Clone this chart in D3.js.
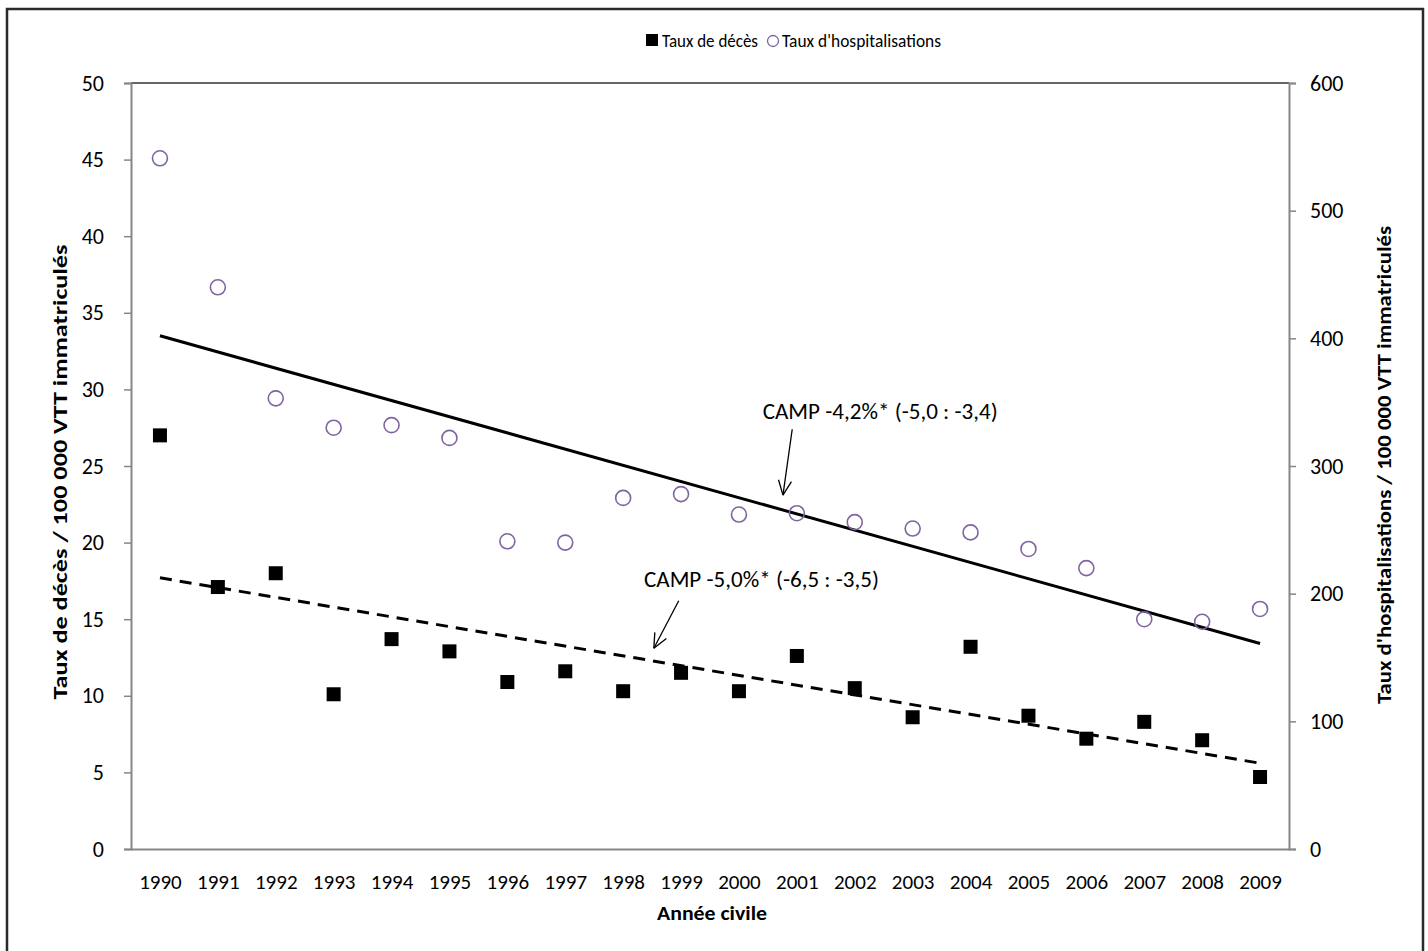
<!DOCTYPE html>
<html>
<head>
<meta charset="utf-8">
<script src="https://cdn.jsdelivr.net/npm/d3@7"></script>
<style>
  body { margin: 0; background: #fff; }
  text { font-family: Carlito, Calibri, Lato, sans-serif; }
</style>
</head>
<body>
<div id="chart"></div>
<script>
const years = [1990, 1991, 1992, 1993, 1994, 1995, 1996, 1997, 1998, 1999,
               2000, 2001, 2002, 2003, 2004, 2005, 2006, 2007, 2008, 2009];
// taux de décès / 100 000 VTT (axe gauche)
const deces = [27.0, 17.1, 18.0, 10.1, 13.7, 12.9, 10.9, 11.6, 10.3, 11.5,
               10.3, 12.6, 10.5, 8.6, 13.2, 8.7, 7.2, 8.3, 7.1, 4.7];
// taux d'hospitalisations / 100 000 VTT (axe droit)
const hospit = [541, 440, 353, 330, 332, 322, 241, 240, 275, 278,
                262, 263, 256, 251, 248, 235, 220, 180, 178, 188];
// tendances : [année, valeur] aux extrémités
const trendDeces = [[1990, 17.7], [2009, 5.6]];
const trendHospit = [[1990, 402], [2009, 161]];
const leftTicks = [0, 5, 10, 15, 20, 25, 30, 35, 40, 45, 50];
const rightTicks = [0, 100, 200, 300, 400, 500, 600];
// annotations CAMP (positions en année / valeur de l'axe gauche)
const notes = [
  { text: "CAMP -4,2%* (-5,0 : -3,4)", x: 2000.41, y: 28.1, from: [2000.92, 27.4], to: [2000.76, 23.1] },
  { text: "CAMP -5,0%* (-6,5 : -3,5)", x: 1998.36, y: 17.1, from: [1998.96, 16.2], to: [1998.53, 13.1] }
];

const width = 1428, height = 951;
const margin = { top: 83, right: 139, bottom: 102, left: 131 };
const plotW = width - margin.left - margin.right;
const plotH = height - margin.top - margin.bottom;

const svg = d3.select("#chart").append("svg")
  .attr("width", width).attr("height", height);

// cadre extérieur
svg.append("rect")
  .attr("x", 7).attr("y", 9).attr("width", 1416).attr("height", 960)
  .attr("fill", "none").attr("stroke", "#2a2a2a").attr("stroke-width", 2.5);

const g = svg.append("g").attr("transform", `translate(${margin.left},${margin.top})`);

const x = d3.scalePoint().domain(years).range([0, plotW]).padding(0.5);
const xNum = d3.scaleLinear().domain([1990, 2009]).range([x(1990), x(2009)]);
const yL = d3.scaleLinear().domain([0, 50]).range([plotH, 0]);
const yR = d3.scaleLinear().domain([0, 600]).range([plotH, 0]);

// bord supérieur de la zone de tracé
g.append("line")
  .attr("x1", 0).attr("x2", plotW).attr("y1", 0).attr("y2", 0)
  .attr("stroke", "#333").attr("stroke-width", 1.5);

const axisL = g.append("g")
  .call(d3.axisLeft(yL).tickValues(leftTicks).tickSize(7).tickPadding(20).tickSizeOuter(7));
const axisR = g.append("g").attr("transform", `translate(${plotW},0)`)
  .call(d3.axisRight(yR).tickValues(rightTicks).tickSize(7).tickPadding(14).tickSizeOuter(7));
const axisB = g.append("g").attr("transform", `translate(0,${plotH})`)
  .call(d3.axisBottom(x).tickSize(0).tickPadding(25));

[axisL, axisR, axisB].forEach(a => {
  a.attr("font-size", 22).attr("font-family", "Carlito, Calibri, Lato, sans-serif");
  a.select(".domain").attr("stroke", "#868686").attr("stroke-width", 2);
  a.selectAll(".tick line").attr("stroke", "#868686").attr("stroke-width", 1.5);
  a.selectAll(".tick text").attr("fill", "#000");
});
axisB.attr("font-size", 21);

// lignes de tendance
const lineL = d3.line().x(d => xNum(d[0])).y(d => yL(d[1]));
const lineR = d3.line().x(d => xNum(d[0])).y(d => yR(d[1]));
g.append("path").attr("d", lineR(trendHospit))
  .attr("fill", "none").attr("stroke", "#000").attr("stroke-width", 3);
g.append("path").attr("d", lineL(trendDeces))
  .attr("fill", "none").attr("stroke", "#000").attr("stroke-width", 3)
  .attr("stroke-dasharray", "12,8");

// points
g.selectAll(".hosp").data(hospit).enter().append("circle")
  .attr("class", "hosp")
  .attr("cx", (d, i) => x(years[i])).attr("cy", d => yR(d))
  .attr("r", 7.5).attr("fill", "none").attr("stroke", "#8064a2").attr("stroke-width", 1.6);

const sq = 14;
g.selectAll(".dec").data(deces).enter().append("rect")
  .attr("class", "dec")
  .attr("x", (d, i) => x(years[i]) - sq / 2).attr("y", d => yL(d) - sq / 2)
  .attr("width", sq).attr("height", sq).attr("fill", "#000");

// annotations
notes.forEach(n => {
  g.append("text").attr("x", xNum(n.x)).attr("y", yL(n.y))
    .attr("font-size", 22).attr("fill", "#000")
    .attr("textLength", 235).attr("lengthAdjust", "spacingAndGlyphs")
    .text(n.text);
  const x1 = xNum(n.from[0]), y1 = yL(n.from[1]);
  const x2 = xNum(n.to[0]), y2 = yL(n.to[1]);
  g.append("line").attr("x1", x1).attr("y1", y1).attr("x2", x2).attr("y2", y2)
    .attr("stroke", "#000").attr("stroke-width", 1.3);
  const ang = Math.atan2(y2 - y1, x2 - x1);
  const L = 16, spread = 0.42;
  [ang + Math.PI - spread, ang + Math.PI + spread].forEach(a => {
    g.append("line").attr("x1", x2).attr("y1", y2)
      .attr("x2", x2 + L * Math.cos(a)).attr("y2", y2 + L * Math.sin(a))
      .attr("stroke", "#000").attr("stroke-width", 1.3);
  });
});

// titres des axes
svg.append("text")
  .attr("transform", `translate(67,472) rotate(-90)`)
  .attr("text-anchor", "middle").attr("font-size", 21).attr("font-weight", "bold")
  .attr("textLength", 455).attr("lengthAdjust", "spacingAndGlyphs")
  .text("Taux de décès / 100 000 VTT immatriculés");
svg.append("text")
  .attr("transform", `translate(1391,465) rotate(-90)`)
  .attr("text-anchor", "middle").attr("font-size", 21).attr("font-weight", "bold")
  .attr("textLength", 478).attr("lengthAdjust", "spacingAndGlyphs")
  .text("Taux d'hospitalisations / 100 000 VTT immatriculés");
svg.append("text")
  .attr("x", 712).attr("y", 920)
  .attr("text-anchor", "middle").attr("font-size", 21).attr("font-weight", "bold")
  .attr("textLength", 110).attr("lengthAdjust", "spacingAndGlyphs")
  .text("Année civile");

// légende
const leg = svg.append("g").attr("transform", "translate(646,40)");
leg.append("rect").attr("x", 0).attr("y", -6).attr("width", 12).attr("height", 12).attr("fill", "#000");
leg.append("text").attr("x", 16).attr("y", 7).attr("font-size", 19)
  .attr("textLength", 96).attr("lengthAdjust", "spacingAndGlyphs").text("Taux de décès");
leg.append("circle").attr("cx", 127).attr("cy", 1).attr("r", 5.5)
  .attr("fill", "none").attr("stroke", "#8064a2").attr("stroke-width", 1.3);
leg.append("text").attr("x", 136).attr("y", 7).attr("font-size", 19)
  .attr("textLength", 159).attr("lengthAdjust", "spacingAndGlyphs").text("Taux d'hospitalisations");
</script>
</body>
</html>
